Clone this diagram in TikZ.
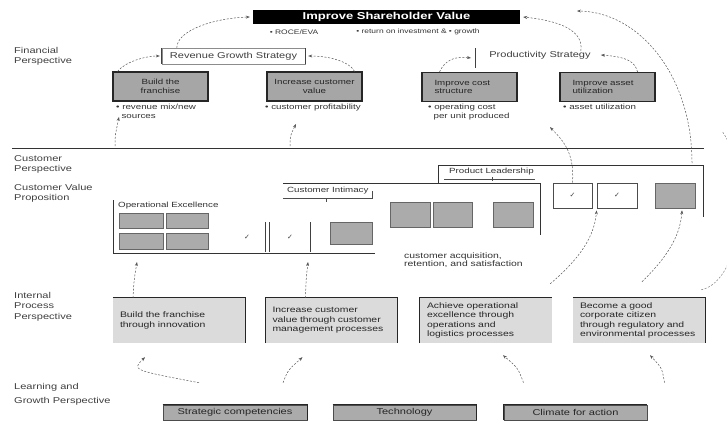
\documentclass[tikz,border=0pt]{standalone}
\usepackage{fontspec}
\setmainfont{Liberation Sans}[FakeStretch=1.3]
\newfontfamily\symfont{DejaVu Sans}
\usetikzlibrary{arrows.meta}
\tikzset{
  persp/.style={anchor=north west, align=left, inner sep=0pt,
    font=\fontsize{8.5}{10.5}\selectfont, text=black!75},
  titlebox/.style={fill=black, text=white, inner sep=0pt,
    minimum width=267pt, minimum height=14pt, font=\fontsize{10}{10}\selectfont\bfseries},
  finbox/.style={draw=black!85, line width=1.1pt, fill=black!35, inner sep=0pt,
    minimum width=95pt, minimum height=29pt, align=center,
    font=\fontsize{7.5}{8.5}\selectfont, text=black!85},
  note/.style={anchor=north west, align=left, inner sep=0pt,
    font=\fontsize{7.5}{9}\selectfont, text=black!80},
  sub/.style={inner sep=0pt, font=\fontsize{6.5}{7}\selectfont, text=black!80},
  strat/.style={inner sep=0pt, font=\fontsize{8.5}{9}\selectfont, text=black!75},
  brlabel/.style={inner sep=0pt, anchor=west, font=\fontsize{7.5}{8}\selectfont, text=black!80},
  bar/.style={draw=black!75, line width=1pt},
  rule/.style={draw=black!80, line width=1pt},
  thin/.style={draw=black!45, line width=0.4pt},
  underl/.style={draw=black!70, line width=0.8pt},
  attr/.style={fill=black!33, draw=black!60, line width=0.6pt, inner sep=0pt},
  tick/.style={draw=black!70, line width=0.8pt, fill=white, inner sep=0pt},
  chk/.style={inner sep=0pt, font=\symfont\fontsize{7}{7}\selectfont, text=black!75},
  ipbox/.style={fill=black!14, inner xsep=7pt, inner ysep=0pt, minimum width=132pt,
    minimum height=45pt, text width=118pt, align=left,
    font=\fontsize{8}{9.5}\selectfont, text=black!85},
  edge/.style={draw=black!85, line width=1.3pt},
  lgbox/.style={fill=black!33, draw=black!70, line width=0.6pt, inner sep=0pt,
    minimum width=144pt, minimum height=15pt, font=\fontsize{8.5}{9}\selectfont, text=black!85},
  flow/.style={draw=black!65, line width=0.5pt, dash pattern=on 2pt off 1.6pt,
    -{Stealth[length=4pt,width=3pt]}},
  flowplain/.style={draw=black!50, line width=0.5pt, dash pattern=on 2pt off 1.6pt}
}
\begin{document}
\begin{tikzpicture}[x=1pt,y=-1pt]
\useasboundingbox[fill=white] (0,0) rectangle (727,423);

% ---------- financial perspective ----------
\node[titlebox] (title) at (386.5,17) {Improve Shareholder Value};
\node[sub] (m1) at (294,32) {• ROCE/EVA};
\node[sub] (m2) at (418,32) {• return on investment \& • growth};

\node[persp] (pf) at (14,47) {Financial\\Perspective};

\node[strat, thin, minimum width=143pt, minimum height=16pt] (rgs) at (233.5,56) {Revenue Growth Strategy};
\draw[bar] (rgs.north west) -- (rgs.south west);
\draw[bar] (rgs.north east) -- (rgs.south east);
\node[strat] (ps) at (540,55) {Productivity Strategy};
\coordinate (psTop) at (475,48);
\coordinate (psBot) at (475,68);
\draw[bar] (psTop) -- (psBot);

\node[finbox] (f1) at (160.5,86.5) {Build the\\franchise};
\node[finbox] (f2) at (314.5,86.5) {Increase customer\\value};
\node[finbox, text width=70pt, align=left] (f3) at (469.5,87) {Improve cost\\structure};
\node[finbox, text width=70pt, align=left] (f4) at (607.5,87) {Improve asset\\utilization};

\node[note] (n1) at (116,104) {• revenue mix/new\\\ \ sources};
\node[note] (n2) at (265,104) {• customer profitability};
\node[note] (n3) at (428,104) {• operating cost\\\ \ per unit produced};
\node[note] (n4) at (563,104) {• asset utilization};

% links inside the financial layer
\draw[flow] ([xshift=15pt]rgs.north west) .. controls (177,30) and (215,18) .. ([xshift=-3pt]title.west);
\draw[flow] ([xshift=5pt]f1.north west) .. controls (125,62) and (145,56) .. ([xshift=-2pt]rgs.west);
\draw[flow] ([xshift=-8pt]f2.north east) .. controls (350,62) and (330,56) .. ([xshift=3pt]rgs.east);
\draw[flow] ([xshift=-30pt]f3.north) .. controls (445,60) and (455,56) .. ([xshift=-4pt,yshift=10pt]psBot);
\draw[flow] ([xshift=-18pt]f4.north east) .. controls (635,62) and (628,57) .. ([xshift=10pt]ps.east);
\draw[flow] ([xshift=-10pt]ps.north east) .. controls (583,35) and (570,22) .. ([xshift=3pt]title.east);

% ---------- customer perspective ----------
\coordinate (sepL) at (12,148);
\coordinate (sepR) at (704,148);
\draw[rule] (sepL) -- (sepR);

\node[persp] (pc) at (14,155) {Customer\\Perspective};
\node[persp] (pv) at (14,184) {Customer Value\\Proposition};

% operational excellence bracket
\coordinate (oeTop) at (113,200);
\coordinate (oeCorner) at (113,253);
\coordinate (oeEnd) at (375,253);
\draw[rule] (oeTop) -- (oeCorner) -- (oeEnd);
\node[brlabel] (oe) at (118,206) {Operational Excellence};
\node[attr, minimum width=44pt, minimum height=15pt] (a1) at (141,220.5) {};
\node[attr, minimum width=42pt, minimum height=15pt] (a2) at (187,220.5) {};
\node[attr, minimum width=44pt, minimum height=16pt] (a3) at (141,241.5) {};
\node[attr, minimum width=42pt, minimum height=16pt] (a4) at (187,241.5) {};
\node[chk] (k1) at (247,237) {✓};
\coordinate (b1t) at (265,222); \coordinate (b1b) at (265,252);
\coordinate (b2t) at (269,222); \coordinate (b2b) at (269,252);
\coordinate (b3t) at (310,222); \coordinate (b3b) at (310,252);
\draw[bar] (b1t) -- (b1b);
\draw[bar] (b2t) -- (b2b);
\node[chk] (k2) at (290,237) {✓};
\draw[bar] (b3t) -- (b3b);
\node[attr, minimum width=42pt, minimum height=22pt] (a5) at (351,233) {};

% customer intimacy bracket
\coordinate (ciL) at (283,183);
\coordinate (ciR) at (540,183);
\coordinate (ciB) at (540,235);
\draw[rule] (ciL) -- (ciR) -- (ciB);
\node[brlabel] (ci) at (287,190.5) {Customer Intimacy};
\coordinate (ciuL) at (283,198); \coordinate (ciuR) at (372,198);
\coordinate (ciuT) at (372,191);
\draw[underl] (ciuL) -- (ciuR) -- (ciuT);
\draw[underl] (326,198) -- (326,202);
\node[attr, minimum width=40pt, minimum height=25pt] (a6) at (410,214.5) {};
\node[attr, minimum width=39pt, minimum height=25pt] (a7) at (452.5,214.5) {};
\node[attr, minimum width=40pt, minimum height=25pt] (a8) at (513,214.5) {};

% product leadership bracket
\coordinate (plB) at (438,183);
\coordinate (plL) at (438,165);
\coordinate (plR) at (703,165);
\coordinate (plE) at (703,217);
\draw[rule] (plB) -- (plL) -- (plR) -- (plE);
\node[brlabel] (pl) at (449,172) {Product Leadership};
\coordinate (pluL) at (444,179); \coordinate (pluR) at (535,179);
\draw[underl] (pluL) -- (pluR);
\draw[underl] (492,177) -- (492,181);
\node[tick, minimum width=39pt, minimum height=25pt] (t1) at (572.5,195.5) {};
\node[chk] at (t1) {✓};
\node[tick, minimum width=40pt, minimum height=25pt] (t2) at (617,195.5) {};
\node[chk] at (t2) {✓};
\node[attr, minimum width=40pt, minimum height=25pt] (a9) at (675,195.5) {};

\node[note, font=\fontsize{8}{8.5}\selectfont] (cv) at (404,252) {customer acquisition,\\retention, and satisfaction};

% customer to financial links
\coordinate (c1a) at (115,146);
\coordinate (c2a) at (290,146);
\coordinate (c2b) at (296,124);
\coordinate (c3b) at (550,127);
\coordinate (arcS) at (692,163);
\coordinate (arcE) at (577,11);
\draw[flow] (c1a) .. controls (115,136) .. ([xshift=3pt,yshift=2pt]n1.south west);
\draw[flow] (c2a) .. controls (290,136) .. (c2b);
\draw[flow] (t1.north) .. controls (575,150) and (560,138) .. (c3b);
\draw[flow] (arcS) .. controls (692,75) and (639,12) .. (arcE);

% ---------- internal process perspective ----------
\node[persp] (pi) at (14,292) {Internal\\Process\\Perspective};

\node[ipbox] (i1) at (179,320.5) {Build the franchise\\through innovation};
\node[ipbox] (i2) at (331.5,320.5) {Increase customer\\value through customer\\management processes};
\node[ipbox] (i3) at (486,320.5) {Achieve operational\\excellence through\\operations and\\logistics processes};
\node[ipbox] (i4) at (639,320.5) {Become a good\\corporate citizen\\through regulatory and\\environmental processes};
\draw[edge] (i1.north west) -- (i1.north east) -- (i1.south east);
\draw[edge] (i2.south west) -- (i2.north west) -- (i2.north east) -- (i2.south east);
\draw[edge] (i3.south west) -- (i3.north west) -- (i3.north east);
\draw[edge] (i4.north west) -- (i4.north east) -- (i4.south east);

% internal to customer links
\draw[flow] ([xshift=-46pt]i1.north) .. controls (134,280) .. (137,262);
\draw[flow] ([xshift=-26pt]i2.north) .. controls (306,280) .. (308,262);
\draw[flow] ([xshift=-2pt,yshift=14pt]i3.north east) .. controls (572,265) and (594,242) .. ([yshift=-2pt]t2.south west);
\draw[flow] ([xshift=3pt,yshift=16pt]i4.north) .. controls (662,262) and (680,240) .. ([xshift=7pt,yshift=-2pt]a9.south);
% outer link running past the right margin
\draw[flowplain] ([xshift=-4pt,yshift=8pt]i4.north east) .. controls (745,280) and (750,170) .. (722,131);

% ---------- learning and growth perspective ----------
\node[persp, font=\fontsize{8.5}{14}\selectfont] (pg) at (14,383) {Learning and\\Growth Perspective};

\node[lgbox] (g1) at (235,412.5) {Strategic competencies};
\node[lgbox, minimum width=143pt] (g2) at (404.5,412.5) {Technology};
\node[lgbox, minimum width=143pt] (g3) at (575.5,412.5) {Climate for action};
\draw[edge] (g1.north west) -- (g1.north east) -- (g1.south east);
\draw[edge] (g2.north west) -- (g2.north east) -- (g2.south east);
\draw[edge] (g3.south west) -- (g3.north west) -- (g3.north east);

% learning to internal links
\draw[flow] ([xshift=-36pt,yshift=22pt]g1.north) .. controls (132,370) .. ([xshift=-34pt,yshift=-14pt]i1.south);
\draw[flow] ([xshift=48pt,yshift=22pt]g1.north) .. controls (288,370) .. ([xshift=-29pt,yshift=-14pt]i2.south);
\draw[flow] ([xshift=-52pt,yshift=22pt]g3.north) .. controls (518,368) .. ([xshift=17pt,yshift=-12pt]i3.south);
\draw[flow] ([xshift=89pt,yshift=22pt]g3.north) .. controls (662,368) .. ([xshift=11pt,yshift=-12pt]i4.south);
\end{tikzpicture}
\end{document}
